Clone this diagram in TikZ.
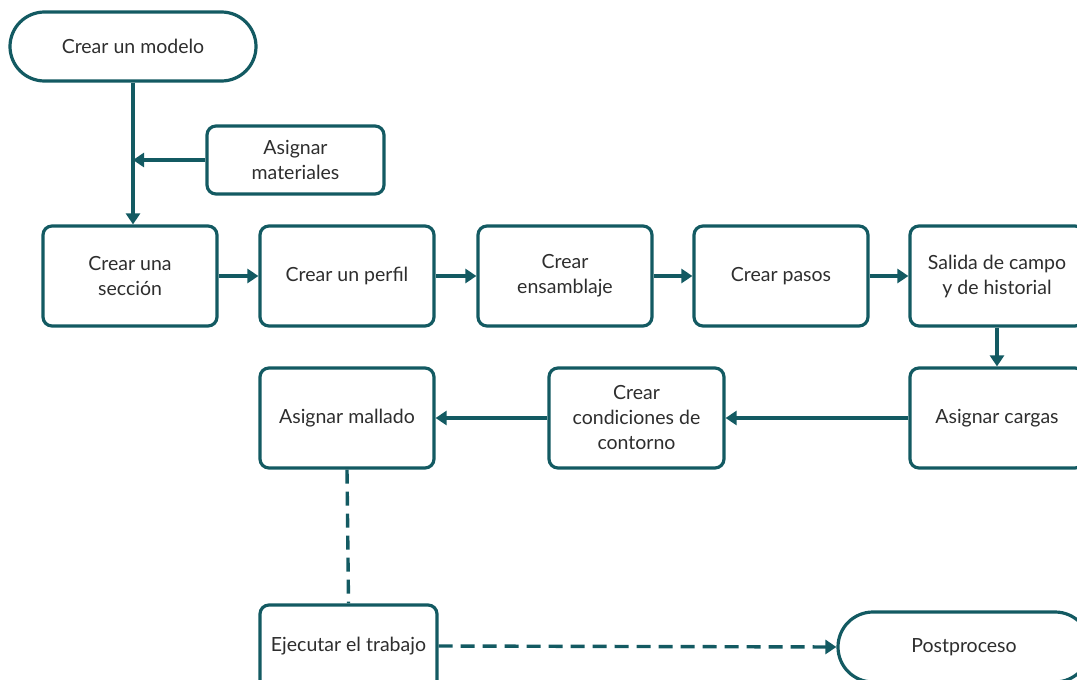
\documentclass[tikz,border=0pt]{standalone}
\usepackage{fontspec}
\setmainfont{Lato}
\usetikzlibrary{arrows.meta,shapes.misc}
\definecolor{teal1}{HTML}{135A62}
\definecolor{txt}{HTML}{2E2E2E}
\tikzset{
  x=1pt,y=-1pt,
  base/.style={draw=teal1,line width=3.2pt,fill=white,text=txt,align=center,
    font=\fontsize{19.5}{25}\selectfont,inner sep=0pt},
  procbox/.style={base,rounded corners=9pt,minimum width=174pt,minimum height=100pt},
  smallbox/.style={base,rounded corners=9pt,minimum width=177pt,minimum height=68pt},
  term/.style={base,rounded rectangle,minimum width=246pt,minimum height=69pt},
  conn/.style={draw=teal1,line width=3.4pt,-{Triangle[length=11pt,width=14pt]}},
  dconn/.style={conn,dash pattern=on 14pt off 8pt},
  dline/.style={draw=teal1,line width=3.4pt,dash pattern=on 14pt off 8pt},
}
\begin{document}
\begin{tikzpicture}
\useasboundingbox (0,0) rectangle (1077,680);
\clip (0,0) rectangle (1077,680);
\node[term] (modelo) at (133,46.5) {Crear un modelo};
\node[smallbox] (mat) at (295.5,160) {Asignar\\materiales};
\node[procbox] (seccion) at (130,276) {Crear una\\sección};
\node[procbox] (perfil) at (347,276) {Crear un perfil};
\node[procbox] (ensam) at (565,276) {Crear\\ensamblaje};
\node[procbox] (pasos) at (781,276) {Crear pasos};
\node[procbox] (salida) at (997,276) {Salida de campo\\y de historial};
\node[procbox] (cargas) at (997,418) {Asignar cargas};
\node[procbox,minimum width=175pt] (cond) at (636.5,418) {Crear\\condiciones de\\contorno};
\node[procbox] (mallado) at (347,418) {Asignar mallado};
\node[procbox,minimum width=177pt] (ejec) at (348.5,655) {};
\node[text=txt,font=\fontsize{19.5}{25}\selectfont] (eject) at (348.5,646) {Ejecutar el trabajo};
\node[term,minimum width=252pt,minimum height=70pt] (post) at (964,647) {Postproceso};
\coordinate (j1) at (133,160);
\draw[conn] (modelo.south) -- (modelo.south |- seccion.north);
\draw[conn] (mat.west) -- (j1);
\draw[conn] (seccion) -- (perfil);
\draw[conn] (perfil) -- (ensam);
\draw[conn] (ensam) -- (pasos);
\draw[conn] (pasos) -- (salida);
\draw[conn] (salida) -- (cargas);
\draw[conn] (cargas) -- (cond);
\draw[conn] (cond) -- (mallado);
\draw[dline] (mallado.south) -- (ejec.north);
\draw[dconn] (ejec.east |- eject) -- (post.west);
\end{tikzpicture}
\end{document}
